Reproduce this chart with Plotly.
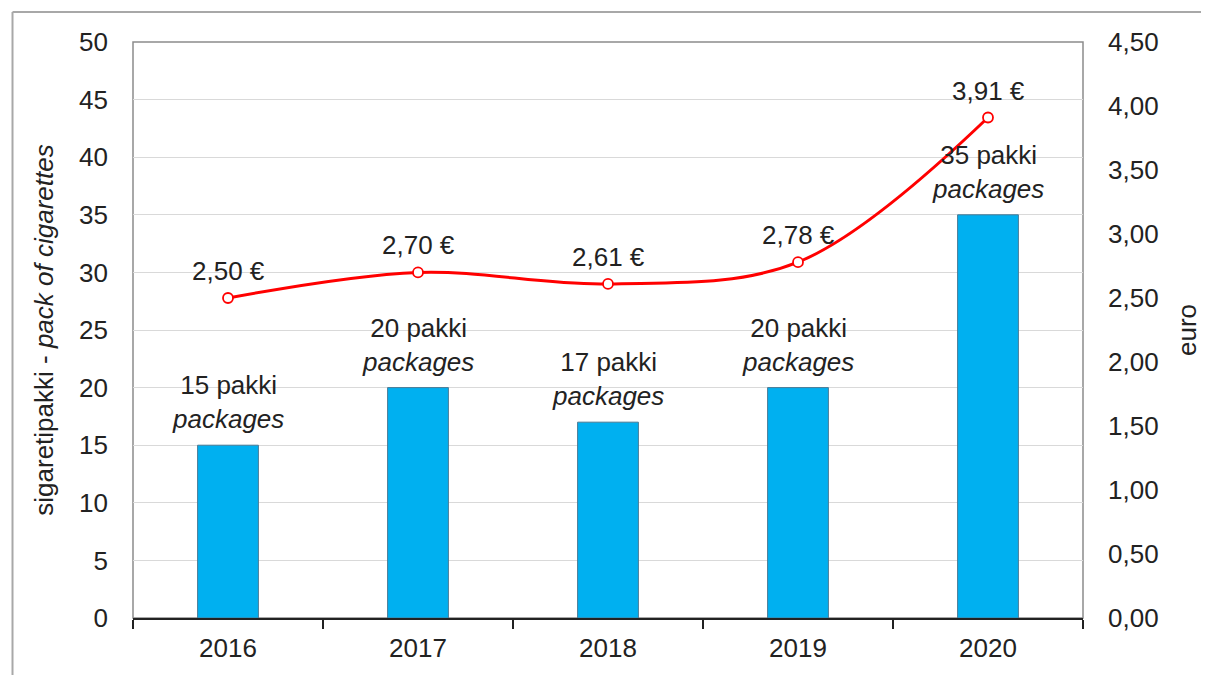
import plotly.graph_objects as go

years = ["2016", "2017", "2018", "2019", "2020"]
packs = [15, 20, 17, 20, 35]
prices = [2.50, 2.70, 2.61, 2.78, 3.91]
price_labels = ["2,50 €", "2,70 €", "2,61 €", "2,78 €", "3,91 €"]
pack_labels = ["15 pakki<br><i>packages</i>", "20 pakki<br><i>packages</i>",
               "17 pakki<br><i>packages</i>", "20 pakki<br><i>packages</i>",
               "35 pakki<br><i>packages</i>"]
left_ticks = list(range(0, 55, 5))
right_ticks = [i * 0.5 for i in range(10)]
right_tick_text = [f"{v:.2f}".replace(".", ",") for v in right_ticks]

FONT = "Liberation Sans, Arial, sans-serif"
OFF = 8  # default page body margin
W, H = 1209 - OFF, 675 - OFF
ML, MT, PW, PH = 133 - OFF, 42 - OFF, 954, 577
MR = W - ML - PW
MB = H - MT - PH
FS = 26

fig = go.Figure()
fig.add_trace(go.Bar(
    x=years, y=packs, width=0.32,
    marker=dict(color="#00B0F0", line=dict(color="#4a7a94", width=1)),
    hoverinfo="skip",
))
fig.add_trace(go.Scatter(
    x=years, y=prices, yaxis="y2", mode="lines+markers",
    line=dict(color="#FF0000", width=3, shape="spline", smoothing=1.0),
    marker=dict(size=10, color="white", line=dict(color="#FF0000", width=1.8)),
    hoverinfo="skip",
))

annotations = []
for i, (v, t) in enumerate(zip(packs, pack_labels)):
    annotations.append(dict(x=i, y=v, xref="x", yref="y", text=t, showarrow=False,
                            yanchor="bottom", yshift=9,
                            font=dict(family=FONT, size=FS, color="#222")))
for i, (v, t) in enumerate(zip(prices, price_labels)):
    annotations.append(dict(x=i, y=v, xref="x", yref="y2", text=t, showarrow=False,
                            yanchor="middle", yshift=27,
                            font=dict(family=FONT, size=FS, color="#222")))

px = lambda p: (p - OFF - ML) / PW
py = lambda p: (H - MB - (p - OFF)) / PH

shapes = [
    dict(type="rect", xref="paper", yref="paper", x0=0, y0=0, x1=1, y1=1,
         line=dict(color="#8c8c8c", width=1.5), layer="below"),
    dict(type="line", xref="paper", yref="paper", x0=px(12), x1=px(1215), y0=py(12), y1=py(12),
         line=dict(color="#a8a8a8", width=2)),
    dict(type="line", xref="paper", yref="paper", x0=px(12), x1=px(12), y0=py(12), y1=py(680),
         line=dict(color="#a8a8a8", width=2)),
]

fig.update_layout(
    width=W, height=H,
    margin=dict(l=ML, r=MR, t=MT, b=MB),
    paper_bgcolor="white", plot_bgcolor="white",
    showlegend=False,
    font=dict(family=FONT, size=FS, color="#222"),
    annotations=annotations,
    shapes=shapes,
    xaxis=dict(type="category", categoryorder="array", categoryarray=years,
               range=[-0.5, len(years) - 0.5], autorange=False,
               showline=True, linecolor="#222", linewidth=2,
               ticks="outside", tickson="boundaries", ticklen=9, tickwidth=2, tickcolor="#222",
               showgrid=False, tickfont=dict(size=FS), tickangle=0, ticklabelstandoff=6),
    yaxis=dict(range=[0, 50], tickvals=left_ticks, showgrid=True, gridcolor="#d9d9d9", gridwidth=1.2,
               showline=False, zeroline=False, ticks="", tickfont=dict(size=FS),
               ticklabelstandoff=24,
               title=dict(text="sigaretipakki - <i>pack of cigarettes</i>", font=dict(size=FS), standoff=17)),
    yaxis2=dict(range=[0, 4.5], tickvals=right_ticks, ticktext=right_tick_text, overlaying="y", side="right",
                showgrid=False, showline=False, zeroline=False, ticks="", tickfont=dict(size=FS),
                ticklabelstandoff=24,
                title=dict(text="euro", font=dict(size=FS), standoff=20)),
)

fig.write_html("out.html")
